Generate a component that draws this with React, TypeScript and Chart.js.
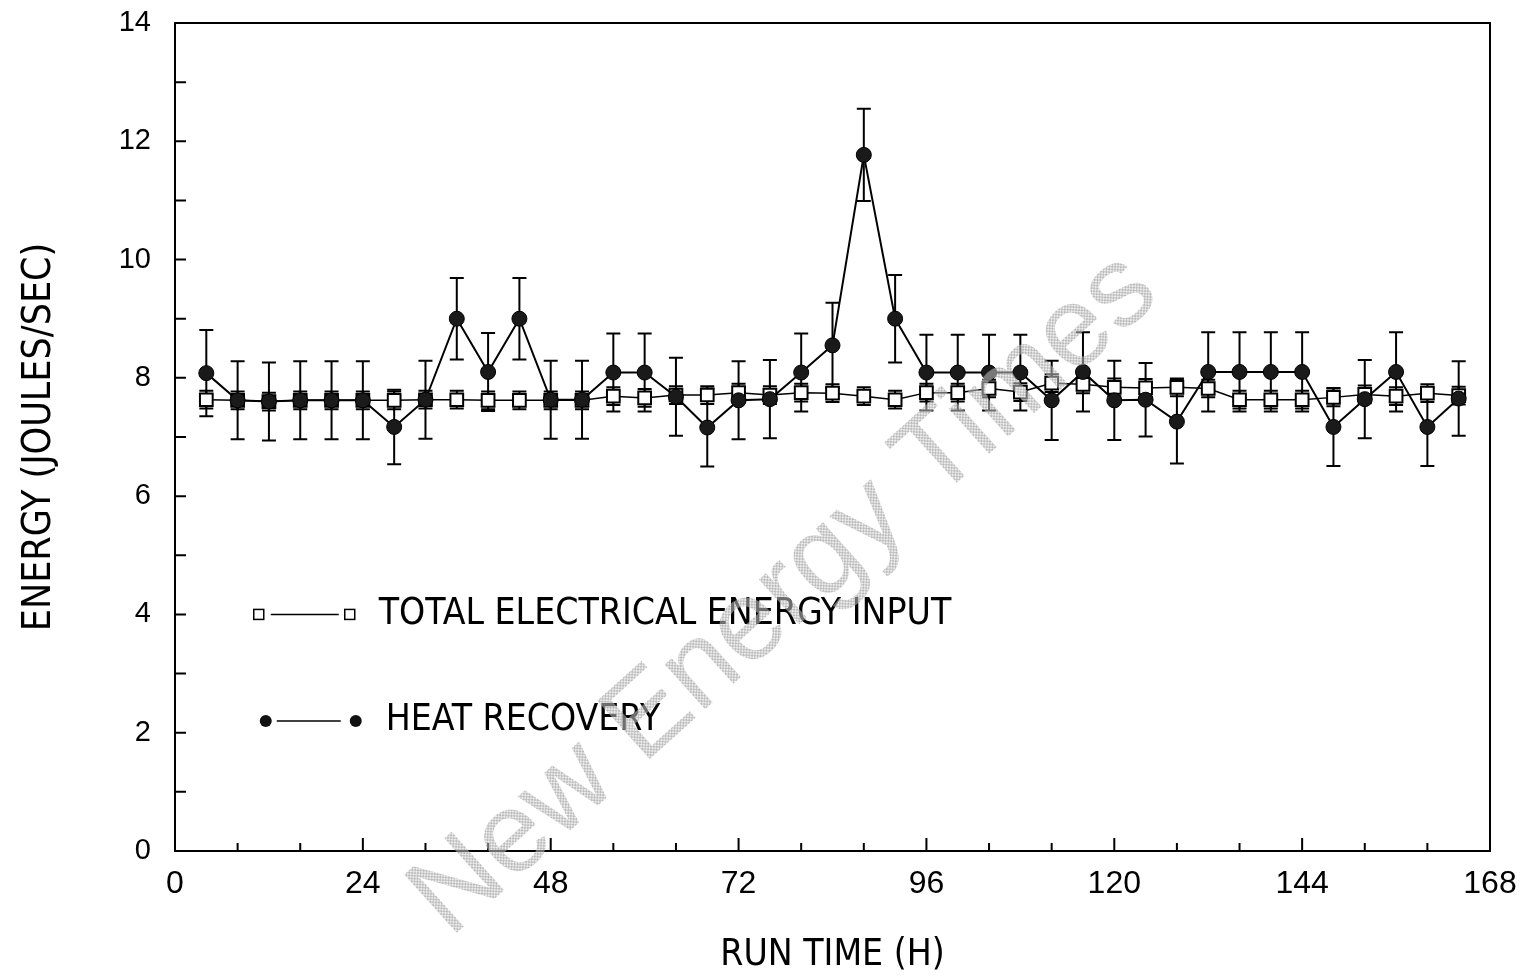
import React, { useEffect, useRef } from "react";
import { Chart, registerables } from "chart.js";

Chart.register(...registerables);

const HOURS = [4, 8, 12, 16, 20, 24, 28, 32, 36, 40, 44, 48, 52, 56, 60, 64, 68, 72, 76, 80, 84, 88, 92, 96, 100, 104, 108, 112, 116, 120, 124, 128, 132, 136, 140, 144, 148, 152, 156, 160, 164];

const HEAT_RECOVERY = [8.08, 7.62, 7.6, 7.62, 7.62, 7.62, 7.17, 7.63, 9.0, 8.1, 9.0, 7.63, 7.63, 8.09, 8.09, 7.68, 7.16, 7.62, 7.64, 8.09, 8.55, 11.77, 9.0, 8.09, 8.09, 8.09, 8.09, 7.62, 8.1, 7.62, 7.63, 7.26, 8.1, 8.1, 8.1, 8.1, 7.17, 7.64, 8.1, 7.17, 7.65];
const HEAT_ERR = [0.73, 0.66, 0.66, 0.66, 0.66, 0.66, 0.63, 0.66, 0.69, 0.66, 0.69, 0.66, 0.66, 0.66, 0.66, 0.66, 0.66, 0.66, 0.66, 0.66, 0.72, 0.78, 0.74, 0.64, 0.64, 0.64, 0.64, 0.67, 0.67, 0.67, 0.62, 0.71, 0.67, 0.67, 0.67, 0.67, 0.66, 0.66, 0.67, 0.66, 0.63];

const ELECTRICAL_INPUT = [7.63, 7.62, 7.6, 7.62, 7.62, 7.62, 7.62, 7.63, 7.63, 7.62, 7.62, 7.62, 7.62, 7.69, 7.66, 7.71, 7.71, 7.75, 7.71, 7.75, 7.74, 7.69, 7.63, 7.75, 7.75, 7.82, 7.76, 7.91, 7.89, 7.84, 7.83, 7.84, 7.82, 7.63, 7.63, 7.63, 7.67, 7.72, 7.69, 7.74, 7.7];
const ELEC_ERR = [0.15, 0.15, 0.15, 0.15, 0.15, 0.15, 0.15, 0.15, 0.15, 0.15, 0.15, 0.15, 0.15, 0.15, 0.15, 0.15, 0.15, 0.15, 0.15, 0.15, 0.15, 0.15, 0.15, 0.15, 0.15, 0.15, 0.15, 0.15, 0.15, 0.15, 0.15, 0.15, 0.15, 0.15, 0.15, 0.15, 0.15, 0.15, 0.15, 0.15, 0.15];

const X_MINOR_TICKS = [8, 16, 24, 32, 40, 48, 56, 64, 72, 80, 88, 96, 104, 112, 120, 128, 136, 144, 152, 160];
const X_MAJOR_TICKS = [24, 48, 72, 96, 120, 144];
const Y_TICKS = [1, 2, 3, 4, 5, 6, 7, 8, 9, 10, 11, 12, 13];

const LEGEND_ELEC = "TOTAL ELECTRICAL ENERGY INPUT";
const LEGEND_HEAT = "HEAT RECOVERY";
const WATERMARK = "New Energy Times";

const NARROW = '"Liberation Sans Narrow", "DejaVu Sans Condensed", "Liberation Sans", Arial, sans-serif';
const TICKFONT = '"Liberation Sans", Arial, sans-serif';

const SERIES = [HEAT_RECOVERY, ELECTRICAL_INPUT];
const ERRORS = [HEAT_ERR, ELEC_ERR];

const overlayPlugin = {
  id: "overlay",
  beforeDatasetsDraw(chart: any) {
    const ctx = chart.ctx;
    const xs = chart.scales.x;
    const ys = chart.scales.y;
    ctx.save();
    ctx.strokeStyle = "#000";
    ctx.lineWidth = 2;
    SERIES.forEach((vals, di) => {
      const errs = ERRORS[di];
      vals.forEach((v, i) => {
        const x = xs.getPixelForValue(HOURS[i]);
        const yt = ys.getPixelForValue(v + errs[i]);
        const yb = ys.getPixelForValue(v - errs[i]);
        ctx.beginPath();
        ctx.moveTo(x, yt);
        ctx.lineTo(x, yb);
        ctx.moveTo(x - 7, yt);
        ctx.lineTo(x + 7, yt);
        ctx.moveTo(x - 7, yb);
        ctx.lineTo(x + 7, yb);
        ctx.stroke();
      });
    });
    ctx.restore();
  },
  afterDatasetsDraw(chart: any) {
    const ctx = chart.ctx;
    const xs = chart.scales.x;
    const ys = chart.scales.y;
    const a = chart.chartArea;
    ctx.save();
    ctx.strokeStyle = "#000";
    ctx.lineWidth = 2;
    ctx.strokeRect(a.left, a.top, a.right - a.left, a.bottom - a.top);
    ctx.beginPath();
    X_MINOR_TICKS.forEach((t) => {
      const x = xs.getPixelForValue(t);
      const len = X_MAJOR_TICKS.includes(t) ? 13 : 8;
      ctx.moveTo(x, a.bottom);
      ctx.lineTo(x, a.bottom - len);
    });
    Y_TICKS.forEach((t) => {
      const y = ys.getPixelForValue(t);
      ctx.moveTo(a.left, y);
      ctx.lineTo(a.left + 11, y);
    });
    ctx.stroke();

    // legend
    const lx = xs.getPixelForValue(10.7);
    const y1 = ys.getPixelForValue(4.0);
    const y2 = ys.getPixelForValue(2.2);
    ctx.lineWidth = 1.5;
    ctx.fillStyle = "#fff";
    ctx.strokeStyle = "#000";
    ctx.beginPath();
    ctx.moveTo(lx + 12, y1);
    ctx.lineTo(lx + 80, y1);
    ctx.stroke();
    [lx, lx + 91].forEach((x) => {
      ctx.fillRect(x - 5, y1 - 5, 10, 10);
      ctx.strokeRect(x - 5, y1 - 5, 10, 10);
    });
    ctx.beginPath();
    ctx.moveTo(lx + 18, y2);
    ctx.lineTo(lx + 82, y2);
    ctx.stroke();
    ctx.fillStyle = "#111";
    [lx + 7, lx + 97].forEach((x) => {
      ctx.beginPath();
      ctx.arc(x, y2, 6, 0, Math.PI * 2);
      ctx.fill();
    });
    ctx.fillStyle = "#000";
    ctx.font = "37px " + NARROW;
    ctx.textBaseline = "middle";
    ctx.textAlign = "left";
    ctx.fillText(LEGEND_ELEC, lx + 120, y1);
    ctx.fillText(LEGEND_HEAT, lx + 127, y2);

    // watermark
    const pc = document.createElement("canvas");
    pc.width = 4;
    pc.height = 4;
    const pctx = pc.getContext("2d")!;
    pctx.fillStyle = "rgba(160,160,160,0.7)";
    pctx.fillRect(0, 0, 2, 2);
    pctx.fillRect(2, 2, 2, 2);
    pctx.fillStyle = "rgba(215,215,215,0.5)";
    pctx.fillRect(2, 0, 2, 2);
    pctx.fillRect(0, 2, 2, 2);
    const pat = ctx.createPattern(pc, "repeat");
    ctx.translate(785, 595);
    ctx.rotate((-42 * Math.PI) / 180);
    ctx.font = "114px " + TICKFONT;
    ctx.textAlign = "center";
    ctx.textBaseline = "middle";
    ctx.fillStyle = pat;
    ctx.fillText(WATERMARK, 0, 0);
    ctx.restore();
  },
};

export default function App() {
  const ref = useRef<HTMLCanvasElement>(null);
  useEffect(() => {
    const chart = new Chart(ref.current!, {
      type: "line",
      data: {
        datasets: [
          {
            label: LEGEND_HEAT,
            data: HEAT_RECOVERY.map((v, i) => ({ x: HOURS[i], y: v })) as any,
            borderColor: "#000",
            borderWidth: 2,
            backgroundColor: "#151515",
            pointBackgroundColor: "#1a1a1a",
            pointBorderColor: "#000",
            pointRadius: 7.5,
            pointBorderWidth: 1,
            pointStyle: "circle",
            tension: 0,
          },
          {
            label: LEGEND_ELEC,
            data: ELECTRICAL_INPUT.map((v, i) => ({ x: HOURS[i], y: v })) as any,
            borderColor: "#000",
            borderWidth: 1.5,
            pointBackgroundColor: "#fff",
            pointBorderColor: "#000",
            pointRadius: 9,
            pointBorderWidth: 2,
            pointStyle: "rect",
            tension: 0,
          },
        ],
      },
      options: {
        responsive: false,
        animation: false,
        layout: { padding: { left: 0, top: 23, right: 37, bottom: 0 } },
        plugins: { legend: { display: false }, tooltip: { enabled: false } },
        scales: {
          x: {
            type: "linear",
            min: 0,
            max: 168,
            grid: { display: false, drawTicks: false },
            border: { display: false },
            ticks: { stepSize: 24, padding: 14, color: "#000", font: { size: 32, family: TICKFONT } },
            title: { display: true, text: "RUN TIME (H)", color: "#000", font: { size: 37, family: NARROW }, padding: { top: 0, bottom: 2 } },
            afterFit: (s: any) => { s.height = 129; s.paddingLeft = 0; s.paddingRight = 0; },
          },
          y: {
            min: 0,
            max: 14,
            grid: { display: false, drawTicks: false },
            border: { display: false },
            ticks: { stepSize: 2, padding: 24, color: "#000", font: { size: 29, family: TICKFONT } },
            title: { display: true, text: "ENERGY (JOULES/SEC)", color: "#000", font: { size: 39, family: NARROW }, padding: { top: 16, bottom: 0 } },
            afterFit: (s: any) => { s.width = 175; s.paddingTop = 0; s.paddingBottom = 0; },
          },
        },
      },
      plugins: [overlayPlugin],
    });
    return () => chart.destroy();
  }, []);
  return (
    <div style={{ position: "absolute", left: 0, top: 0, width: 1527, height: 980, background: "#fff" }}>
      <canvas ref={ref} width={1527} height={980} style={{ display: "block" }} />
    </div>
  );
}
